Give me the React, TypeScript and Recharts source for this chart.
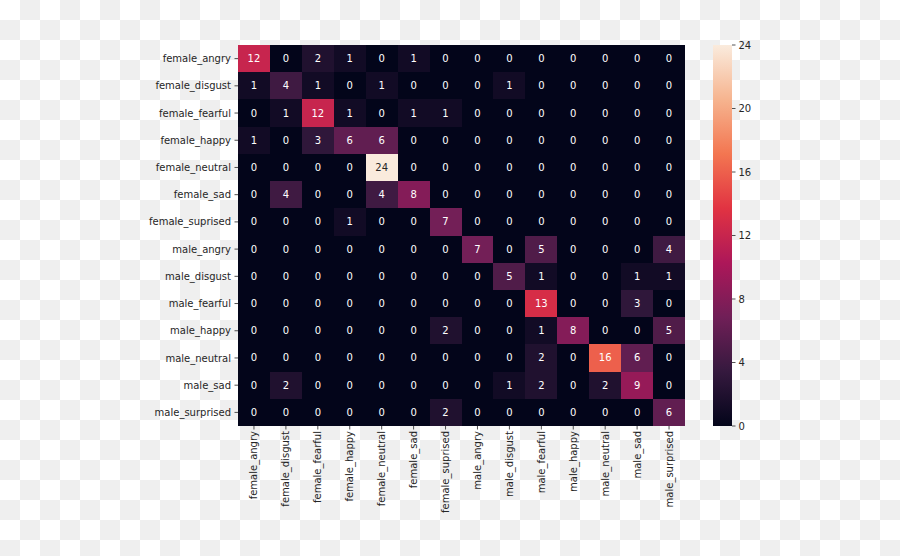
import React from "react";
import { ScatterChart, Scatter, XAxis, YAxis, BarChart, Bar } from "recharts";

// class names (rows = actual, cols = predicted)
const labels = [
  "female_angry",
  "female_disgust",
  "female_fearful",
  "female_happy",
  "female_neutral",
  "female_sad",
  "female_suprised",
  "male_angry",
  "male_disgust",
  "male_fearful",
  "male_happy",
  "male_neutral",
  "male_sad",
  "male_surprised",
];

const matrix = [
  [12, 0, 2, 1, 0, 1, 0, 0, 0, 0, 0, 0, 0, 0],
  [1, 4, 1, 0, 1, 0, 0, 0, 1, 0, 0, 0, 0, 0],
  [0, 1, 12, 1, 0, 1, 1, 0, 0, 0, 0, 0, 0, 0],
  [1, 0, 3, 6, 6, 0, 0, 0, 0, 0, 0, 0, 0, 0],
  [0, 0, 0, 0, 24, 0, 0, 0, 0, 0, 0, 0, 0, 0],
  [0, 4, 0, 0, 4, 8, 0, 0, 0, 0, 0, 0, 0, 0],
  [0, 0, 0, 1, 0, 0, 7, 0, 0, 0, 0, 0, 0, 0],
  [0, 0, 0, 0, 0, 0, 0, 7, 0, 5, 0, 0, 0, 4],
  [0, 0, 0, 0, 0, 0, 0, 0, 5, 1, 0, 0, 1, 1],
  [0, 0, 0, 0, 0, 0, 0, 0, 0, 13, 0, 0, 3, 0],
  [0, 0, 0, 0, 0, 0, 2, 0, 0, 1, 8, 0, 0, 5],
  [0, 0, 0, 0, 0, 0, 0, 0, 0, 2, 0, 16, 6, 0],
  [0, 2, 0, 0, 0, 0, 0, 0, 1, 2, 0, 2, 9, 0],
  [0, 0, 0, 0, 0, 0, 2, 0, 0, 0, 0, 0, 0, 6],
];

const cbarTicks = [0, 4, 8, 12, 16, 20, 24];

// seaborn "rocket" colormap stops
const rocket: [number, string][] = [
  [0, "#03051a"],
  [1 / 7, "#35193e"],
  [2 / 7, "#701f57"],
  [3 / 7, "#ad1759"],
  [4 / 7, "#e13342"],
  [5 / 7, "#f37651"],
  [6 / 7, "#f6b48f"],
  [1, "#faebdd"],
];

const W = 900;
const H = 556;
const FONT = "DejaVu Sans, sans-serif";
const TXT = "#262626";
const VMAX = Math.max(...matrix.flat());

// main heatmap layout
const M = { top: 45, right: 215, bottom: 20, left: 128 };
const Y_W = 110;
const X_H = 110;
const CW = (W - M.left - M.right - Y_W) / labels.length;
const CH = (H - M.top - M.bottom - X_H) / labels.length;

const hex = (h: string) => [1, 3, 5].map((i) => parseInt(h.slice(i, i + 2), 16));

function rocketColor(t: number) {
  t = Math.max(0, Math.min(1, t));
  for (let i = 1; i < rocket.length; i++) {
    const [t1, c1] = rocket[i];
    const [t0, c0] = rocket[i - 1];
    if (t <= t1) {
      const f = (t - t0) / (t1 - t0);
      const a = hex(c0);
      const b = hex(c1);
      const rgb = a.map((v, k) => Math.round(v + (b[k] - v) * f));
      return `rgb(${rgb.join(",")})`;
    }
  }
  return rocket[rocket.length - 1][1];
}

function isLight(t: number) {
  const c = rocketColor(t).match(/\d+/g)!.map(Number);
  const lin = c.map((v) => {
    const s = v / 255;
    return s <= 0.03928 ? s / 12.92 : Math.pow((s + 0.055) / 1.055, 2.4);
  });
  return 0.2126 * lin[0] + 0.7152 * lin[1] + 0.0722 * lin[2] > 0.408;
}

const cells = matrix.flatMap((row, r) => row.map((v, c) => ({ col: c, row: r, v })));
const cbarData = [{ name: "cbar", v: VMAX }];

const HeatCell = (props: any) => {
  const { cx, cy, payload } = props;
  const t = payload.v / VMAX;
  return (
    <g>
      <rect
        x={cx - CW / 2}
        y={cy - CH / 2}
        width={CW}
        height={CH}
        fill={rocketColor(t)}
        shapeRendering="crispEdges"
      />
      <text
        x={cx}
        y={cy}
        textAnchor="middle"
        dominantBaseline="central"
        fontSize={10}
        fontFamily={FONT}
        fill={isLight(t) ? TXT : "#ffffff"}
      >
        {payload.v}
      </text>
    </g>
  );
};

const XTick = (props: any) => {
  const { x, y, payload } = props;
  return (
    <g transform={`translate(${x},${y})`}>
      <text
        transform="rotate(-90)"
        textAnchor="end"
        dominantBaseline="central"
        fontSize={10}
        fontFamily={FONT}
        fill={TXT}
      >
        {labels[payload.value]}
      </text>
    </g>
  );
};

const checker = {
  backgroundColor: "#ffffff",
  backgroundImage: "repeating-conic-gradient(#efefef 0% 25%, #ffffff 0% 50%)",
  backgroundSize: "40px 40px",
};

export default function App() {
  const idx = labels.map((_, i) => i);
  return (
    <div style={{ position: "absolute", left: 0, top: 0, width: W, height: H, ...checker }}>
      <div style={{ position: "absolute", left: 0, top: 0 }}>
        <ScatterChart width={W} height={H} margin={M}>
          <XAxis
            type="number"
            dataKey="col"
            domain={[-0.5, labels.length - 0.5]}
            ticks={idx}
            interval={0}
            height={X_H}
            axisLine={false}
            tickSize={3.5}
            tickMargin={1.5}
            tickLine={{ stroke: TXT, strokeWidth: 0.8 }}
            tick={<XTick />}
          />
          <YAxis
            type="number"
            dataKey="row"
            reversed
            domain={[-0.5, labels.length - 0.5]}
            ticks={idx}
            interval={0}
            width={Y_W}
            axisLine={false}
            tickSize={3.5}
            tickMargin={3.5}
            tickLine={{ stroke: TXT, strokeWidth: 0.8 }}
            tickFormatter={(i: number) => labels[i]}
            tick={{ fontSize: 10, fontFamily: FONT, fill: TXT }}
          />
          <Scatter data={cells} shape={<HeatCell />} isAnimationActive={false} />
        </ScatterChart>
      </div>
      <div style={{ position: "absolute", left: 0, top: 0 }}>
        <BarChart
          width={W}
          height={H}
          data={cbarData}
          margin={{ top: 45, right: 128, bottom: 130, left: 713 }}
          barCategoryGap={0}
        >
          <defs>
            <linearGradient id="rocketGrad" x1="0" y1="1" x2="0" y2="0">
              {rocket.map(([o, c]) => (
                <stop key={o} offset={o} stopColor={c} />
              ))}
            </linearGradient>
          </defs>
          <XAxis dataKey="name" hide />
          <YAxis
            orientation="right"
            type="number"
            domain={[0, VMAX]}
            ticks={cbarTicks}
            width={40}
            axisLine={false}
            tickSize={3.5}
            tickMargin={3}
            tickLine={{ stroke: TXT, strokeWidth: 0.8 }}
            tick={{ fontSize: 10, fontFamily: FONT, fill: TXT }}
          />
          <Bar dataKey="v" fill="url(#rocketGrad)" isAnimationActive={false} />
        </BarChart>
      </div>
    </div>
  );
}
